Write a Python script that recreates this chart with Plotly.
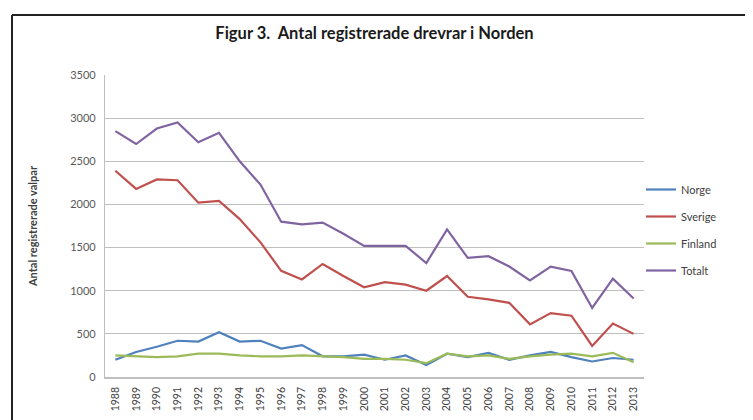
import plotly.graph_objects as go

years = [str(y) for y in range(1988, 2014)]
norge = [200, 290, 350, 420, 410, 520, 410, 420, 330, 370, 240, 240, 260,
         200, 250, 140, 270, 230, 280, 200, 250, 290, 230, 180, 220, 200]
sverige = [2390, 2180, 2290, 2280, 2020, 2040, 1830, 1560, 1230, 1130, 1310,
           1170, 1040, 1100, 1070, 1000, 1170, 930, 900, 860, 610, 740, 710,
           360, 620, 500]
finland = [250, 240, 230, 240, 270, 270, 250, 240, 240, 250, 240, 230, 210,
           210, 200, 160, 270, 240, 250, 210, 240, 260, 270, 240, 280, 170]
totalt = [2850, 2700, 2880, 2950, 2720, 2830, 2500, 2230, 1800, 1770, 1790,
          1660, 1520, 1520, 1520, 1320, 1710, 1380, 1400, 1280, 1120, 1280,
          1230, 800, 1140, 910]

series = [("Norge", norge, "#4F81BD"), ("Sverige", sverige, "#C0504D"),
          ("Finland", finland, "#9BBB59"), ("Totalt", totalt, "#8064A2")]

fig = go.Figure()
for name, vals, col in series:
    fig.add_trace(go.Scatter(x=years, y=vals, mode="lines", name=name,
                             legendgroup=name,
                             line=dict(color=col, width=2.2)))

L, R, T, B = 97, 117, 67, 51
W, H = 753, 420
pw, ph = W - L - R, H - T - B

def px_x(px):
    return (px - L) / pw

def px_y(py):
    return (H - B - py) / ph

fig.update_layout(
    width=W, height=H,
    margin=dict(l=L, r=R, t=T, b=B),
    paper_bgcolor="white", plot_bgcolor="white",
    font=dict(family="Lato, Open Sans, sans-serif", color="#595959"),
    title=dict(text="<b>Figur 3.  Antal registrerade drevrar i Norden</b>",
               x=0.5, xanchor="center", xref="paper",
               y=1 - 25 / H, yanchor="middle", yref="container",
               font=dict(size=16.5, color="#1a1a1a")),
    xaxis=dict(type="category", range=[-0.5, 25.5], tickangle=-90,
               showgrid=False, showline=True, linecolor="#BFBFBF",
               linewidth=1.5, ticks="", tickfont=dict(size=10.5, color="#404040"),
               ticklabelstandoff=4),
    yaxis=dict(range=[0, 3500], dtick=500, showgrid=True,
               gridcolor="#BFBFBF", gridwidth=1.2, showline=True,
               linecolor="#BFBFBF", linewidth=1.2, zeroline=False, ticks="",
               tickfont=dict(size=11, color="#595959"),
               ticklabelstandoff=6,
               title=dict(text="<b>Antal registrerade valpar</b>",
                          font=dict(size=11, color="#404040"), standoff=30)),
    legend=dict(x=px_x(633), y=px_y(167), xanchor="left", yanchor="top",
                traceorder="grouped", tracegroupgap=8,
                font=dict(size=11, color="#404040"),
                bgcolor="rgba(0,0,0,0)", itemwidth=30),
    showlegend=True,
)

fig.add_shape(type="line", xref="paper", yref="paper",
              x0=px_x(4), x1=px_x(760), y0=px_y(7), y1=px_y(7),
              line=dict(color="#222222", width=2))
fig.add_shape(type="line", xref="paper", yref="paper",
              x0=px_x(4), x1=px_x(4), y0=px_y(7), y1=px_y(430),
              line=dict(color="#222222", width=2))

fig.write_html("out.html")
